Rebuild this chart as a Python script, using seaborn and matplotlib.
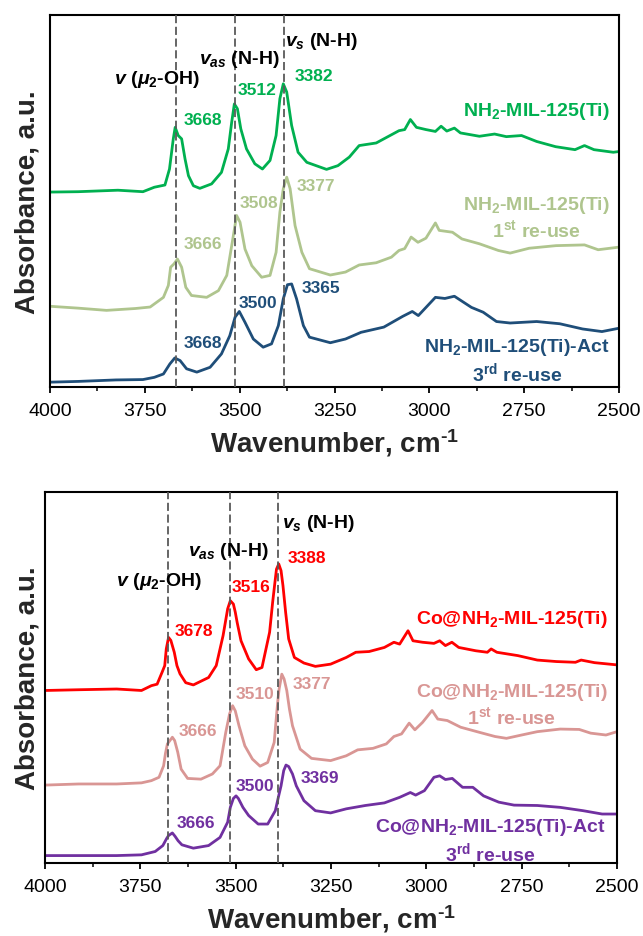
import matplotlib
matplotlib.use("Agg")
import matplotlib.pyplot as plt
from matplotlib.ticker import MultipleLocator
import pandas as pd
import seaborn as sns

sns.set_theme(style="ticks")
plt.rcParams['font.family'] = ['Liberation Sans', 'DejaVu Sans']
plt.rcParams['mathtext.fontset'] = 'custom'
plt.rcParams['mathtext.rm'] = 'Liberation Sans:bold'
plt.rcParams['mathtext.it'] = 'Liberation Sans:italic:bold'
plt.rcParams['mathtext.bf'] = 'Liberation Sans:bold'

# ---- painel de cima: NH2-MIL-125(Ti) ----
wn_nh2 = [4000, 3926, 3821, 3755, 3725, 3697, 3685, 3675, 3670, 3662, 3653, 3644, 3635, 3622,
          3605, 3574, 3548, 3530, 3521, 3514, 3506, 3497, 3482, 3460, 3440, 3420, 3404, 3394,
          3385, 3376, 3363, 3346, 3323, 3271, 3241, 3211, 3185, 3140, 3100, 3080, 3065, 3050,
          3034, 3009, 2984, 2969, 2954, 2934, 2918, 2868, 2828, 2797, 2757, 2717, 2667, 2616,
          2591, 2566, 2515, 2500]
abs_nh2 = [52.1, 52.2, 52.6, 52.2, 53.4, 54.0, 58.3, 66.4, 69.5, 67.3, 66.4, 61.0, 56.5, 53.8,
           53.1, 54.3, 57.4, 63.7, 70.9, 75.8, 74.5, 69.1, 63.7, 59.7, 58.3, 60.6, 67.3, 77.2,
           81.2, 79.0, 70.0, 62.8, 60.1, 58.2, 59.2, 61.5, 64.6, 65.3, 67.5, 68.6, 68.9, 71.6,
           69.5, 68.9, 68.4, 69.8, 68.5, 69.3, 68.0, 67.1, 67.7, 67.0, 67.3, 65.7, 64.3, 63.5,
           64.6, 63.5, 62.8, 63.0]

wn_nh2_r1 = [4000, 3926, 3851, 3775, 3736, 3701, 3688, 3682, 3673, 3664, 3653, 3642, 3627, 3587,
             3556, 3534, 3521, 3508, 3499, 3486, 3468, 3442, 3420, 3404, 3394, 3385, 3376, 3367,
             3354, 3336, 3316, 3261, 3221, 3185, 3140, 3100, 3080, 3065, 3048, 3030, 3009, 2984,
             2974, 2939, 2914, 2868, 2818, 2787, 2737, 2666, 2591, 2555, 2500]
abs_nh2_r1 = [21.4, 20.9, 20.3, 20.8, 21.2, 23.8, 27.0, 31.9, 32.8, 34.1, 31.9, 26.5, 24.3, 23.8,
              25.6, 29.7, 37.7, 45.8, 44.0, 36.8, 32.3, 29.2, 29.7, 35.9, 46.7, 53.0, 56.1, 53.0,
              43.1, 35.9, 31.5, 29.8, 30.6, 32.5, 33.1, 34.6, 36.4, 36.9, 40.0, 38.6, 39.7, 43.8,
              41.8, 41.3, 39.5, 38.2, 36.4, 35.7, 37.0, 37.7, 37.9, 36.6, 37.3]

wn_nh2_r3 = [4000, 3926, 3826, 3755, 3725, 3701, 3684, 3671, 3657, 3640, 3613, 3578, 3548, 3526,
             3512, 3501, 3486, 3464, 3438, 3416, 3398, 3385, 3374, 3363, 3350, 3332, 3316, 3261,
             3221, 3180, 3120, 3070, 3045, 3029, 2984, 2959, 2934, 2889, 2858, 2823, 2787, 2717,
             2656, 2596, 2545, 2500]
abs_nh2_r3 = [1.0, 1.2, 1.6, 1.7, 2.3, 3.2, 5.9, 7.5, 6.8, 4.6, 3.7, 5.0, 8.6, 13.5,
              18.5, 20.0, 17.1, 12.6, 10.4, 11.3, 16.2, 23.4, 27.2, 27.4, 23.4, 16.2, 13.1, 11.6,
              12.6, 14.4, 15.8, 18.7, 20.0, 18.9, 23.8, 23.5, 24.1, 21.1, 19.8, 17.3, 16.9, 17.3,
              16.7, 15.3, 14.6, 15.5]

# ---- painel de baixo: Co@NH2-MIL-125(Ti) ----
wn_co = [4000, 3912, 3812, 3747, 3721, 3706, 3693, 3686, 3682, 3676, 3670, 3661, 3654, 3646,
         3631, 3611, 3571, 3551, 3533, 3521, 3514, 3506, 3501, 3496, 3486, 3466, 3446, 3431,
         3411, 3403, 3398, 3393, 3387, 3381, 3376, 3369, 3361, 3346, 3321, 3291, 3251, 3210,
         3185, 3150, 3110, 3085, 3070, 3048, 3035, 3010, 2980, 2965, 2950, 2933, 2915, 2870,
         2840, 2830, 2815, 2760, 2709, 2659, 2609, 2594, 2559, 2500]
abs_co = [46.5, 46.7, 46.9, 46.5, 47.8, 48.2, 51.4, 53.2, 57.7, 60.8, 60.0, 56.8, 53.2, 51.0,
          48.6, 48.0, 50.0, 53.2, 61.3, 68.5, 70.7, 69.8, 67.6, 64.8, 59.9, 55.0, 52.1, 52.7,
          62.2, 70.3, 74.8, 79.2, 80.6, 78.8, 74.8, 67.6, 60.4, 55.4, 53.9, 53.0, 53.6, 55.4,
          56.8, 57.0, 58.1, 59.5, 59.0, 62.6, 59.9, 59.5, 59.2, 59.9, 58.6, 59.5, 58.1, 57.2,
          56.8, 57.7, 56.8, 55.9, 54.7, 54.3, 54.1, 54.7, 54.0, 53.4]

wn_co_r1 = [4000, 3912, 3812, 3747, 3721, 3701, 3689, 3684, 3679, 3666, 3660, 3652, 3643, 3626,
            3591, 3561, 3541, 3526, 3516, 3508, 3501, 3491, 3476, 3456, 3436, 3416, 3399, 3393,
            3389, 3386, 3379, 3373, 3366, 3359, 3351, 3331, 3301, 3251, 3210, 3180, 3140, 3105,
            3085, 3065, 3045, 3030, 3010, 2985, 2970, 2945, 2910, 2860, 2820, 2790, 2750, 2709,
            2649, 2599, 2569, 2529, 2500]
abs_co_r1 = [21.0, 21.3, 21.3, 21.6, 22.2, 23.1, 26.2, 29.6, 32.1, 33.9, 33.0, 29.9, 25.3, 22.8,
             22.6, 24.0, 26.2, 35.2, 40.2, 42.4, 41.0, 36.9, 31.6, 28.0, 26.1, 27.1, 32.5, 39.7,
             44.2, 46.9, 50.9, 49.6, 46.5, 41.5, 37.0, 30.7, 28.2, 27.6, 28.9, 30.5, 30.9, 32.1,
             34.1, 34.8, 37.7, 35.9, 37.9, 41.1, 38.8, 38.4, 36.6, 35.2, 34.1, 33.6, 34.5, 35.4,
             36.1, 36.0, 35.0, 34.5, 35.4]

wn_co_r3 = [4000, 3912, 3812, 3747, 3711, 3691, 3681, 3676, 3666, 3659, 3651, 3641, 3611, 3571,
            3541, 3521, 3514, 3506, 3499, 3493, 3481, 3466, 3441, 3416, 3396, 3389, 3381, 3374,
            3368, 3361, 3351, 3341, 3321, 3291, 3251, 3210, 3160, 3110, 3070, 3042, 3028, 3005,
            2980, 2965, 2950, 2932, 2905, 2878, 2850, 2810, 2770, 2709, 2649, 2589, 2539, 2500]
abs_co_r3 = [2.0, 2.0, 2.0, 2.2, 3.1, 4.7, 6.6, 7.4, 8.1, 7.2, 6.0, 4.9, 4.0, 4.7,
             6.9, 11.0, 15.0, 17.4, 18.1, 17.4, 15.0, 12.8, 10.5, 10.5, 14.1, 17.3, 20.8, 24.9,
             26.4, 26.0, 24.0, 20.8, 16.8, 14.1, 13.5, 14.6, 15.5, 16.2, 17.7, 19.0, 18.3, 19.5,
             23.1, 23.5, 22.5, 22.8, 20.4, 20.4, 18.1, 16.4, 15.6, 15.5, 15.0, 14.1, 13.2, 13.2]

# linhas tracejadas e anotacoes
linhas_nh2 = [3668, 3512, 3382]
linhas_co = [3678, 3516, 3388]

cores_nh2 = ['#00B050', '#AFC58E', '#1F4E79']
cores_co = ['#FF0000', '#D99694', '#7030A0']

rotulos_nh2 = ['NH$_2$-MIL-125(Ti)', 'NH$_2$-MIL-125(Ti)\n1$^{\\mathrm{st}}$ re-use',
               'NH$_2$-MIL-125(Ti)-Act\n3$^{\\mathrm{rd}}$ re-use']
rotulos_co = ['Co@NH$_2$-MIL-125(Ti)', 'Co@NH$_2$-MIL-125(Ti)\n1$^{\\mathrm{st}}$ re-use',
              'Co@NH$_2$-MIL-125(Ti)-Act\n3$^{\\mathrm{rd}}$ re-use']
pos_rotulos_nh2 = [(2525, 74.0), (2525, 45.4), (2525, 7.0)]
pos_rotulos_co = [(2525, 65.9), (2525, 42.9), (2530, 6.1)]

picos_nh2 = [('3668', 3597, 71.6), ('3512', 3455, 79.7), ('3382', 3305, 83.4),
             ('3666', 3597, 38.4), ('3508', 3450, 49.4), ('3377', 3299, 53.9),
             ('3668', 3597, 11.7), ('3500', 3451, 22.3), ('3365', 3287, 26.5)]
picos_co = [('3678', 3610, 62.6), ('3516', 3459, 74.5), ('3388', 3312, 82.4),
            ('3666', 3599, 35.7), ('3510', 3449, 45.6), ('3377', 3301, 48.5),
            ('3666', 3605, 11.0), ('3500', 3449, 21.0), ('3369', 3280, 23.1)]

modos = [r'$v\ (\mu_2$-OH)', r'$v_{as}$ (N-H)', r'$v_{s}$ (N-H)']
pos_modos_nh2 = [(3717, 82.5), (3502, 87.9), (3284, 92.8)]
pos_modos_co = [(3702, 76.1), (3520, 84.2), (3282, 91.8)]

W, H = 643, 937
fig = plt.figure(figsize=(W / 100, H / 100), dpi=100)
ax1 = fig.add_axes([50 / W, 1 - 388 / H, 569 / W, 372 / H])
ax2 = fig.add_axes([45 / W, 1 - 864 / H, 572 / W, 371 / H])


def painel(ax, series, cores, linhas, picos, rotulos, pos_rotulos, pos_modos, ylim, xlab_x):
    for (wn, ab), c in zip(series, cores):
        df = pd.DataFrame({'wn': wn, 'abs': ab})
        sns.lineplot(data=df, x='wn', y='abs', color=c, lw=2.0, sort=False,
                     estimator=None, ax=ax)
    for x in linhas:
        ax.axvline(x, color='#595959', lw=1.3, ls=(0, (4.5, 2)), zorder=3)
    for i, (txt, x, y) in enumerate(picos):
        ax.text(x, y, txt, color=cores[i // 3], fontsize=12.5, fontweight='bold',
                ha='center', va='center')
    for txt, (x, y), c in zip(rotulos, pos_rotulos, cores):
        ax.text(x, y, txt, color=c, fontsize=14, fontweight='bold', ha='right',
                va='center', multialignment='center', linespacing=1.15)
    for txt, (x, y) in zip(modos, pos_modos):
        ax.text(x, y, txt, color='black', fontsize=14, fontweight='bold',
                ha='center', va='center')
    ax.set_xlim(4000, 2500)
    ax.set_ylim(*ylim)
    ax.xaxis.set_major_locator(MultipleLocator(250))
    ax.xaxis.set_minor_locator(MultipleLocator(125))
    ax.set_yticks([])
    ax.tick_params(axis='x', which='major', direction='out', length=4, width=1.3,
                   labelsize=14, pad=7, colors='black')
    ax.tick_params(axis='x', which='minor', direction='out', length=3, width=1.3)
    for s in ax.spines.values():
        s.set_visible(True)
        s.set_color('black')
        s.set_linewidth(1.5)
    ax.set_xlabel(r'Wavenumber, cm$^{\text{-1}}$', fontsize=20, fontweight='bold', labelpad=5)
    ax.set_ylabel('Absorbance, a.u.', fontsize=20, fontweight='bold')
    ax.yaxis.set_label_coords(xlab_x, 0.5)


painel(ax1, [(wn_nh2, abs_nh2), (wn_nh2_r1, abs_nh2_r1), (wn_nh2_r3, abs_nh2_r3)],
       cores_nh2, linhas_nh2, picos_nh2, rotulos_nh2, pos_rotulos_nh2, pos_modos_nh2,
       (-0.3, 99.7), -0.016)
painel(ax2, [(wn_co, abs_co), (wn_co_r1, abs_co_r1), (wn_co_r3, abs_co_r3)],
       cores_co, linhas_co, picos_co, rotulos_co, pos_rotulos_co, pos_modos_co,
       (0, 100), -0.007)

fig.savefig('out.png', dpi=100)
